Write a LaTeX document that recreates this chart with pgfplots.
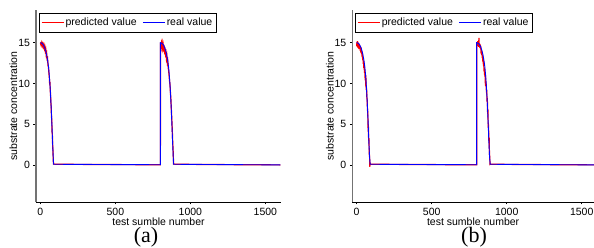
\documentclass[border=0pt]{standalone}
\usepackage{pgfplots}
\pgfplotsset{compat=1.18}
\usepackage{fontspec}
\setmainfont{Liberation Sans}
\newfontfamily\serifcap{Liberation Serif}

\pgfplotsset{
  panel/.style={
    scale only axis,
    width=245pt, height=192pt,
    xmin=-29, xmax=1604, ymin=-4.5, ymax=19,
    axis lines=left,
    x axis line style={-, black, line width=0.8pt},
    y axis line style={-, black!55, line width=1.3pt},
    tick align=outside,
    major tick length=2.5pt,
    tick style={black, line width=0.6pt},
    xtick={0,500,1000,1500},
    ytick={0,5,10,15},
    /pgf/number format/assume math mode=true,
    /pgf/number format/1000 sep={},
    tick label style={font=\fontsize{10.5}{12}\selectfont},
    xticklabel style={anchor=base, yshift=-11.3pt, inner sep=0pt},
    yticklabel style={anchor=east, inner sep=0pt, xshift=-3.3pt},
    label style={font=\fontsize{10.5}{12}\selectfont},
    xlabel={test sumble number},
    ylabel={substrate concentration},
    xlabel style={at={(axis description cs:0.5,-0.12)}, anchor=base, inner sep=0pt},
    ylabel style={at={(axis description cs:-0.0927,0.5)}, anchor=center, rotate=0},
    legend columns=2,
    legend style={at={(axis description cs:0.012,0.986)}, anchor=north west,
      draw=black, line width=1.2pt, fill=white,
      font=\fontsize{10.5}{12}\selectfont,
      inner xsep=2pt, inner ysep=3pt,
      /tikz/every even column/.append style={column sep=4pt}},
    clip=true,
  },
  predleg/.style={legend image code/.code={\node[inner sep=0pt, anchor=west] at (0pt,0pt) {\textcolor{red}{\rule[-0.6pt]{22pt}{1.2pt}}};}},
  realleg/.style={legend image code/.code={\node[inner sep=0pt, anchor=west] at (0pt,0pt) {\textcolor{blue}{\rule[-0.5pt]{22pt}{1.0pt}}};}},
}

\begin{document}
\begin{tikzpicture}
\path[use as bounding box] (0,0) rectangle (594pt,248pt);

% ---------------- (a) ----------------
\begin{axis}[panel, at={(36pt,46pt)}, anchor=south west]
\addplot[color=red, line width=1.2pt, predleg] coordinates {
(0,15.0)(3,14.8)(6,15.0)(9,14.7)(12,14.9)(15,14.6)(18,14.8)(21,14.5)(24,14.7)(27,14.3)
(30,14.5)(33,14.0)(36,14.2)(39,13.5)(42,13.7)(45,13.0)(48,13.1)(51,12.2)(54,12.0)(57,11.3)
(60,10.7)(62,9.9)(64,10.2)(66,9.2)(68,8.6)(70,7.7)(72,7.2)(74,6.0)(76,5.6)(78,4.1)
(80,3.8)(82,2.4)(84,1.8)(86,0.6)(88,0.15)(100,0.12)(300,0.1)(500,0.08)(799,0.06)
(800,0.06)(801,15.0)(804,14.7)(807,15.0)(810,14.5)(813,14.9)(816,14.3)(819,14.7)(822,14.2)
(825,14.4)(828,13.9)(831,14.1)(834,13.6)(837,13.8)(840,13.1)(843,13.4)(846,12.6)(849,12.8)
(852,11.9)(855,11.6)(858,11.0)(861,10.3)(864,9.9)(867,8.9)(870,8.1)(873,6.9)(876,5.7)
(879,4.5)(882,2.9)(885,1.8)(888,0.15)(900,0.12)(1200,0.08)(1600,0.04)
};
\addlegendentry{predicted value}
\addplot[color=blue, line width=0.9pt, realleg] coordinates {
(0,15.0)(5,14.98)(10,14.93)(15,14.85)(20,14.72)(25,14.55)(30,14.32)(35,14.03)(40,13.66)
(45,13.2)(50,12.65)(55,11.95)(60,10.9)(65,9.6)(70,7.9)(75,5.9)(80,3.5)(85,1.3)(88,0.12)
(300,0.1)(500,0.08)(800,0.06)
(800,15.0)(805,14.98)(810,14.93)(815,14.85)(820,14.72)(825,14.55)(830,14.32)(835,14.03)(840,13.66)
(845,13.2)(850,12.65)(855,11.95)(860,10.9)(865,9.6)(870,7.9)(875,5.9)(880,3.5)(885,1.3)(888,0.12)
(1200,0.08)(1600,0.04)
};
\addlegendentry{real value}
\end{axis}
\node[anchor=base, font=\serifcap\fontsize{22}{24}\selectfont] at (146pt,5pt) {(a)};

% ---------------- (b) ----------------
\begin{axis}[panel, at={(352.3pt,46pt)}, anchor=south west, width=241.7pt, xmax=1582]
\addplot[color=red, line width=1.2pt, predleg] coordinates {
(0,14.6)(2,15.1)(4,14.5)(6,15.2)(8,14.4)(10,15.0)(12,14.3)(14,14.9)(16,14.2)(18,14.8)
(20,14.3)(22,14.6)(24,14.0)(26,14.5)(28,13.8)(30,14.4)(32,13.6)(34,14.0)(36,13.3)(38,13.8)
(40,12.9)(42,13.2)(44,12.4)(46,12.8)(48,11.9)(50,12.3)(52,11.3)(54,11.6)(56,10.8)(58,10.9)
(60,10.2)(62,10.4)(64,9.2)(66,9.5)(68,8.3)(70,8.0)(72,6.8)(74,6.5)(76,4.8)(78,5.0)
(80,3.0)(82,3.3)(84,1.4)(86,1.2)(88,-0.2)(89,0.3)(91,0.12)(300,0.1)(500,0.08)(799,0.05)
(800,0.05)(801,14.5)(803,15.0)(805,14.6)(807,15.2)(809,14.7)(811,15.0)(813,14.5)(815,15.6)
(817,14.6)(819,14.9)(821,14.4)(823,14.8)(825,14.2)(827,14.6)(829,13.7)(831,14.2)(833,13.5)
(835,13.9)(837,13.1)(839,13.5)(841,12.7)(843,13.1)(845,12.2)(847,12.5)(849,11.5)(851,11.9)
(853,11.0)(855,11.3)(857,10.4)(859,10.6)(861,9.7)(863,10.0)(865,8.9)(867,9.2)(869,7.8)
(871,8.2)(873,6.3)(875,6.8)(877,4.6)(879,5.0)(881,3.0)(883,3.4)(885,1.6)(887,1.0)(889,0.1)
(891,0.12)(1200,0.08)(1600,0.04)
};
\addlegendentry{predicted value}
\addplot[color=blue, line width=0.9pt, realleg] coordinates {
(0,15.0)(5,14.98)(10,14.93)(15,14.85)(20,14.72)(25,14.55)(30,14.32)(35,14.03)(40,13.66)
(45,13.2)(50,12.65)(55,11.95)(60,10.9)(65,9.6)(70,7.9)(75,5.9)(80,3.5)(85,1.3)(90,0.12)
(300,0.1)(500,0.08)(800,0.06)
(800,15.0)(805,14.98)(810,14.93)(815,14.85)(820,14.72)(825,14.55)(830,14.32)(835,14.03)(840,13.66)
(845,13.2)(850,12.65)(855,11.95)(860,10.9)(865,9.6)(870,7.9)(875,5.9)(880,3.5)(885,1.3)(890,0.12)
(1200,0.08)(1600,0.04)
};
\addlegendentry{real value}
\end{axis}
\node[anchor=base, font=\serifcap\fontsize{22}{24}\selectfont] at (474pt,5pt) {(b)};
\end{tikzpicture}
\end{document}
